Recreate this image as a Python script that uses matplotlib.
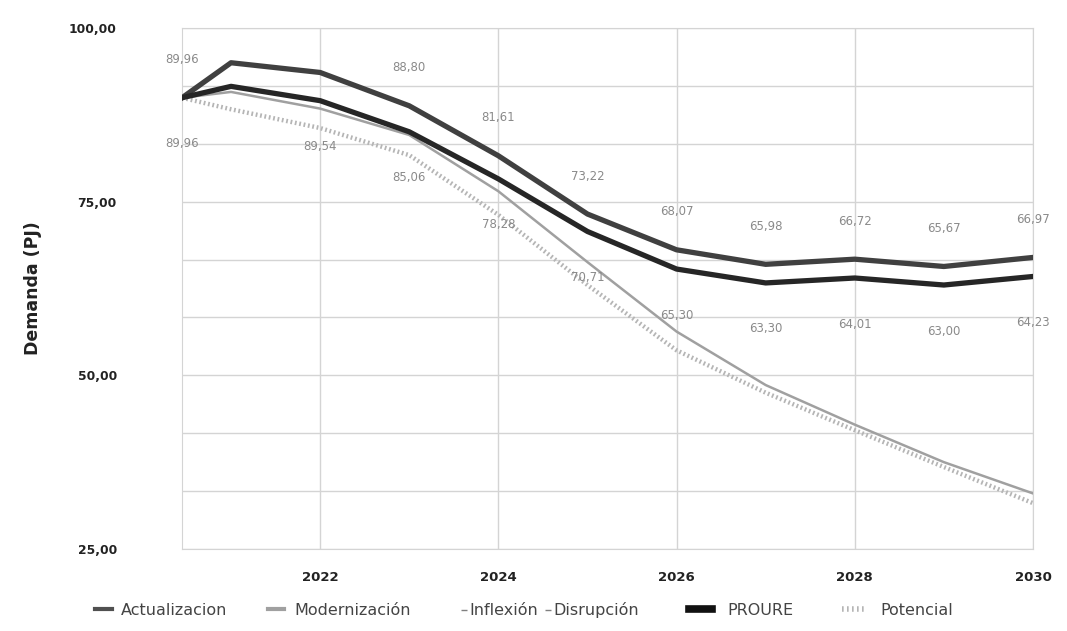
import matplotlib
matplotlib.use("Agg")
import matplotlib.pyplot as plt
from matplotlib.lines import Line2D
from matplotlib.ticker import MultipleLocator, FuncFormatter

# x positions (first point sits just right of 2020 in the original)
years = [2020.45, 2021, 2022, 2023, 2024, 2025, 2026, 2027, 2028, 2029, 2030]

actualizacion = [89.96, 95.0, 93.6, 88.80, 81.61, 73.22, 68.07, 65.98, 66.72, 65.67, 66.97]
proure = [89.96, 91.6, 89.54, 85.06, 78.28, 70.71, 65.30, 63.30, 64.01, 63.00, 64.23]
modernizacion = [89.96, 90.8, 88.4, 84.6, 76.5, 66.3, 56.3, 48.6, 42.9, 37.5, 33.0]
potencial = [89.96, 88.3, 85.6, 81.7, 73.1, 63.0, 53.6, 47.5, 42.1, 36.8, 31.6]

# which points get a value label (top line above, lower line below)
top_labels = ["89,96", None, None, "88,80", "81,61", "73,22", "68,07", "65,98", "66,72", "65,67", "66,97"]
bottom_labels = ["89,96", None, "89,54", "85,06", "78,28", "70,71", "65,30", "63,30", "64,01", "63,00", "64,23"]

fig = plt.figure(figsize=(10.67, 6.31), dpi=100)
ax = fig.add_axes([0.1706, 0.130, 0.7975, 0.8256])

ax.plot(years, potencial, color="#b5b5b5", lw=3.2, linestyle=(0, (0.4, 0.6)), zorder=2)
ax.plot(years, modernizacion, color="#a0a0a0", lw=1.8, zorder=3, solid_joinstyle="round")
ax.plot(years, actualizacion, color="#404040", lw=3.8, zorder=4, solid_joinstyle="round")
ax.plot(years, proure, color="#262626", lw=3.8, zorder=5, solid_joinstyle="round")

for x, y, t in zip(years, actualizacion, top_labels):
    if t:
        ax.annotate(t, (x, y), xytext=(0, 38), textcoords="offset pixels",
                    ha="center", va="center", fontsize=8.5, color="#8a8a8a")
for x, y, t in zip(years, proure, bottom_labels):
    if t:
        ax.annotate(t, (x, y), xytext=(0, -46), textcoords="offset pixels",
                    ha="center", va="center", fontsize=8.5, color="#8a8a8a")

ax.set_xlim(2020.45, 2030)
ax.set_ylim(25, 100)
ax.xaxis.set_major_locator(MultipleLocator(2))
ax.yaxis.set_major_locator(MultipleLocator(25))
ax.yaxis.set_minor_locator(MultipleLocator(25 / 3))
ax.yaxis.set_major_formatter(FuncFormatter(lambda v, p: f"{v:.2f}".replace(".", ",")))
ax.grid(True, which="both", axis="y", color="#d4d4d4", lw=1)
ax.grid(True, which="major", axis="x", color="#d4d4d4", lw=1)
ax.tick_params(axis="both", which="both", length=0)
ax.tick_params(axis="y", pad=47, labelsize=8.8)
ax.tick_params(axis="x", pad=16, labelsize=9.5)
for lab in ax.get_xticklabels() + ax.get_yticklabels():
    lab.set_fontweight("bold")
    lab.set_color("#222222")
for s in ax.spines.values():
    s.set_color("#d4d4d4")

ax.set_ylabel("Demanda (PJ)", fontsize=12.5, fontweight="bold", color="#222222")
ax.yaxis.set_label_coords(-0.165, 0.5)

# legend split in three groups to mimic the uneven spacing of the original
leg_kw = dict(loc="center left", frameon=False, fontsize=11.5, borderpad=0,
              borderaxespad=0)
h1 = [Line2D([], [], color="#505050", lw=3), Line2D([], [], color="#a0a0a0", lw=3)]
leg1 = fig.legend(h1, ["Actualizacion", "Modernización"], bbox_to_anchor=(0.089, 0.033),
                  ncol=2, handlelength=1.05, handletextpad=0.6, columnspacing=2.5, **leg_kw)
h2 = [Line2D([], [], color="#808080", marker="_", markersize=5, linestyle="none"),
      Line2D([], [], color="#808080", marker="_", markersize=5, linestyle="none")]
leg2 = fig.legend(h2, ["Inflexión", "Disrupción"], bbox_to_anchor=(0.432, 0.033),
                  ncol=2, handlelength=0.4, handletextpad=0.15, columnspacing=0.4, **leg_kw)
h3 = [Line2D([], [], color="#111111", lw=5.5),
      Line2D([], [], color="#b5b5b5", lw=4, linestyle=(0, (0.3, 0.6)))]
leg3 = fig.legend(h3, ["PROURE", "Potencial"], bbox_to_anchor=(0.646, 0.033),
                  ncol=2, handlelength=1.4, handletextpad=1.0, columnspacing=3.0, **leg_kw)
for leg in (leg1, leg2, leg3):
    for t in leg.get_texts():
        t.set_color("#444444")

fig.savefig("out.png", dpi=100)
